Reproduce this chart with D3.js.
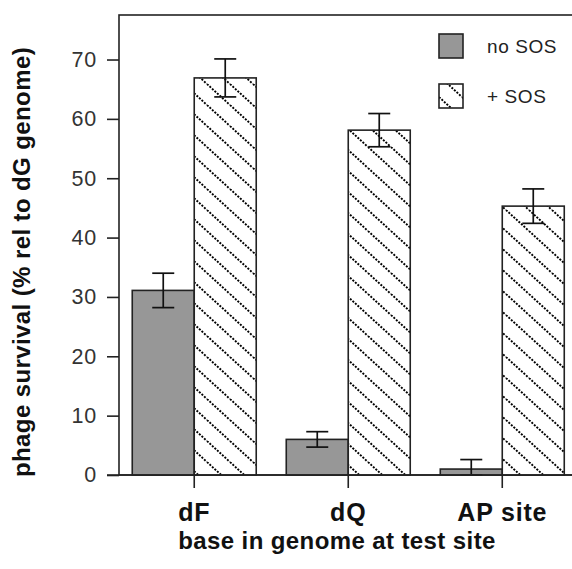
<!DOCTYPE html>
<html>
<head>
<meta charset="utf-8">
<script src="https://cdn.jsdelivr.net/npm/d3@7"></script>
<style>
  html, body { margin:0; padding:0; background:#fff; }
  svg { display:block; font-family:"Liberation Sans", Arial, sans-serif; }
</style>
</head>
<body>
<div id="chart"></div>
<script>
// phage survival bar chart: two series per lesion, with error bars
const categories = ['dF', 'dQ', 'AP site'];
const series = ['no SOS', '+ SOS'];
const noSOS    = [31.1, 6.0, 1.0];
const noSOSerr = [2.9, 1.3, 1.6];
const plusSOS    = [66.9, 58.1, 45.3];
const plusSOSerr = [3.2, 2.8, 2.9];
const yTicks = [0, 10, 20, 30, 40, 50, 60, 70];

const W = 572, H = 569;
const m = {t:15, l:119, b:94};
const svg = d3.select('#chart').append('svg').attr('width', W).attr('height', H);

// diagonal hatch, dotted-looking lines
const defs = svg.append('defs');
const hw = 23, hh = 21;
const pat = defs.append('pattern').attr('id','hatch').attr('patternUnits','userSpaceOnUse')
  .attr('width', hw).attr('height', hh);
pat.append('rect').attr('width', hw).attr('height', hh).attr('fill', '#fff');
[[0,0],[-hw,0],[hw,0]].forEach(([dx,dy])=>{
  pat.append('line').attr('x1', dx).attr('y1', dy).attr('x2', dx+hw).attr('y2', dy+hh)
    .attr('stroke', '#000').attr('stroke-width', 1.9).attr('stroke-dasharray', '2 1.4');
});

const y = d3.scaleLinear().domain([0, 77.5]).range([H - m.b, m.t]);
const x = d3.scaleBand().domain(categories).range([m.l, 577.5]).paddingInner(0.195).paddingOuter(0.086);
const xs = d3.scaleBand().domain(series).range([0, x.bandwidth()]);

const rows = categories.map((c,i)=>[
  {cat:c, s:series[0], v:noSOS[i], e:noSOSerr[i]},
  {cat:c, s:series[1], v:plusSOS[i], e:plusSOSerr[i]}
]).flat();
const fillOf = s => s === series[0] ? '#979797' : 'url(#hatch)';

// frame (right side runs off the canvas)
svg.append('rect').attr('x', m.l).attr('y', m.t).attr('width', 577.5 - m.l).attr('height', y(0) - m.t)
  .attr('fill','none').attr('stroke','#222').attr('stroke-width',1.6);

// bars
svg.append('g').selectAll('rect').data(rows).join('rect')
  .attr('x', d => x(d.cat) + xs(d.s))
  .attr('y', d => y(d.v))
  .attr('width', xs.bandwidth())
  .attr('height', d => y(0) - y(d.v))
  .attr('fill', d => fillOf(d.s))
  .attr('stroke', '#222').attr('stroke-width', 1.6);

// error bars
const cap = 11;
const eb = svg.append('g').attr('stroke','#111').attr('stroke-width',1.7);
rows.forEach(d=>{
  const cx = x(d.cat) + xs(d.s) + xs.bandwidth()/2;
  const hi = y(d.v + d.e), lo = y(Math.max(0, d.v - d.e));
  eb.append('line').attr('x1',cx).attr('x2',cx).attr('y1',hi).attr('y2',lo);
  eb.append('line').attr('x1',cx-cap).attr('x2',cx+cap).attr('y1',hi).attr('y2',hi);
  eb.append('line').attr('x1',cx-cap).attr('x2',cx+cap).attr('y1',lo).attr('y2',lo);
});

// y axis
const ya = svg.append('g').attr('transform',`translate(${m.l},0)`)
  .call(d3.axisLeft(y).tickValues(yTicks).tickSize(12).tickPadding(10));
ya.select('.domain').remove();
ya.selectAll('line').attr('stroke','#222').attr('stroke-width',1.6);
ya.selectAll('text').attr('font-size',21.5).attr('fill','#333').attr('letter-spacing',0.8)
  .attr('font-family','"Liberation Sans", Arial, sans-serif');

// x axis: baseline plus downward ticks
svg.append('line').attr('x1', m.l - 12).attr('x2', W).attr('y1', y(0)).attr('y2', y(0))
  .attr('stroke','#222').attr('stroke-width',1.6);
const xa = svg.append('g').attr('transform',`translate(0,${y(0)})`)
  .call(d3.axisBottom(x).tickSize(13).tickPadding(15));
xa.select('.domain').remove();
xa.selectAll('line').attr('stroke','#222').attr('stroke-width',1.6);
xa.selectAll('text').attr('font-size',25).attr('font-weight',700).attr('fill','#111').attr('letter-spacing',0.8)
  .attr('font-family','"Liberation Sans", Arial, sans-serif');

// axis titles
svg.append('text').attr('x', 337).attr('y', 549).attr('text-anchor','middle')
  .attr('font-size',24).attr('font-weight',700).attr('fill','#111').attr('letter-spacing',0.4)
  .text('base in genome at test site');
svg.append('text').attr('transform','translate(30,262) rotate(-90)').attr('text-anchor','middle')
  .attr('font-size',24).attr('font-weight',700).attr('fill','#111').attr('letter-spacing',0.4)
  .text('phage survival (% rel to dG genome)');

// legend
const lg = svg.append('g').attr('transform','translate(439,34)');
series.forEach((s,i)=>{
  lg.append('rect').attr('x',0).attr('y',i*50).attr('width',24).attr('height',24)
    .attr('fill', fillOf(s)).attr('stroke','#222').attr('stroke-width',1.6);
  lg.append('text').attr('x',48).attr('y',i*50+19).attr('font-size',19).attr('fill','#222')
    .attr('letter-spacing',0.6).text(s);
});
</script>
</body>
</html>
